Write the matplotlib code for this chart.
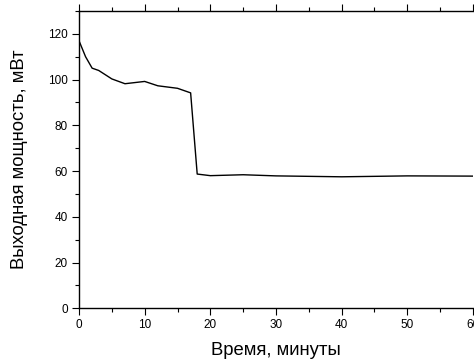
import numpy as np
import matplotlib
matplotlib.use("Agg")
import matplotlib.pyplot as plt
from matplotlib.ticker import MultipleLocator

plt.rcParams["font.family"] = ["Liberation Sans", "DejaVu Sans"]

# Output power over time
time_min = [0, 1, 2, 3, 5, 7, 10, 12, 15, 17, 18, 20, 25, 30, 40, 50, 60]
power_mw = [117, 110, 105, 104, 100.3, 98.2, 99.2, 97.3, 96.2, 94.2, 58.7,
            58, 58.4, 57.9, 57.5, 57.9, 57.8]

fig = plt.figure(figsize=(4.74, 3.6), dpi=100)
ax = fig.add_axes([79 / 474, 1 - 308.3 / 360, 394 / 474, (308.3 - 11) / 360])

ax.plot(time_min, power_mw, color="black", lw=1.0)

ax.set_xlim(0, 60)
ax.set_ylim(0, 130)
ax.xaxis.set_major_locator(MultipleLocator(10))
ax.xaxis.set_minor_locator(MultipleLocator(5))
ax.yaxis.set_major_locator(MultipleLocator(20))
ax.yaxis.set_minor_locator(MultipleLocator(10))

ax.spines["right"].set_visible(False)
for s in ("left", "bottom", "top"):
    ax.spines[s].set_linewidth(1.0)

ax.tick_params(which="major", direction="out", length=5, width=0.8,
               labelsize=8.5, pad=3, top=True)
ax.tick_params(which="minor", direction="out", length=3, width=0.8, top=True)
ax.tick_params(axis="x", which="both", top=True)
ax.tick_params(axis="x", which="minor", length=3)

ax.set_xlabel("Время, минуты", fontsize=13.3, labelpad=7.5)
ax.set_ylabel("Выходная мощность, мВт", fontsize=13.3, labelpad=14.5)

fig.savefig("out.png", dpi=100)
